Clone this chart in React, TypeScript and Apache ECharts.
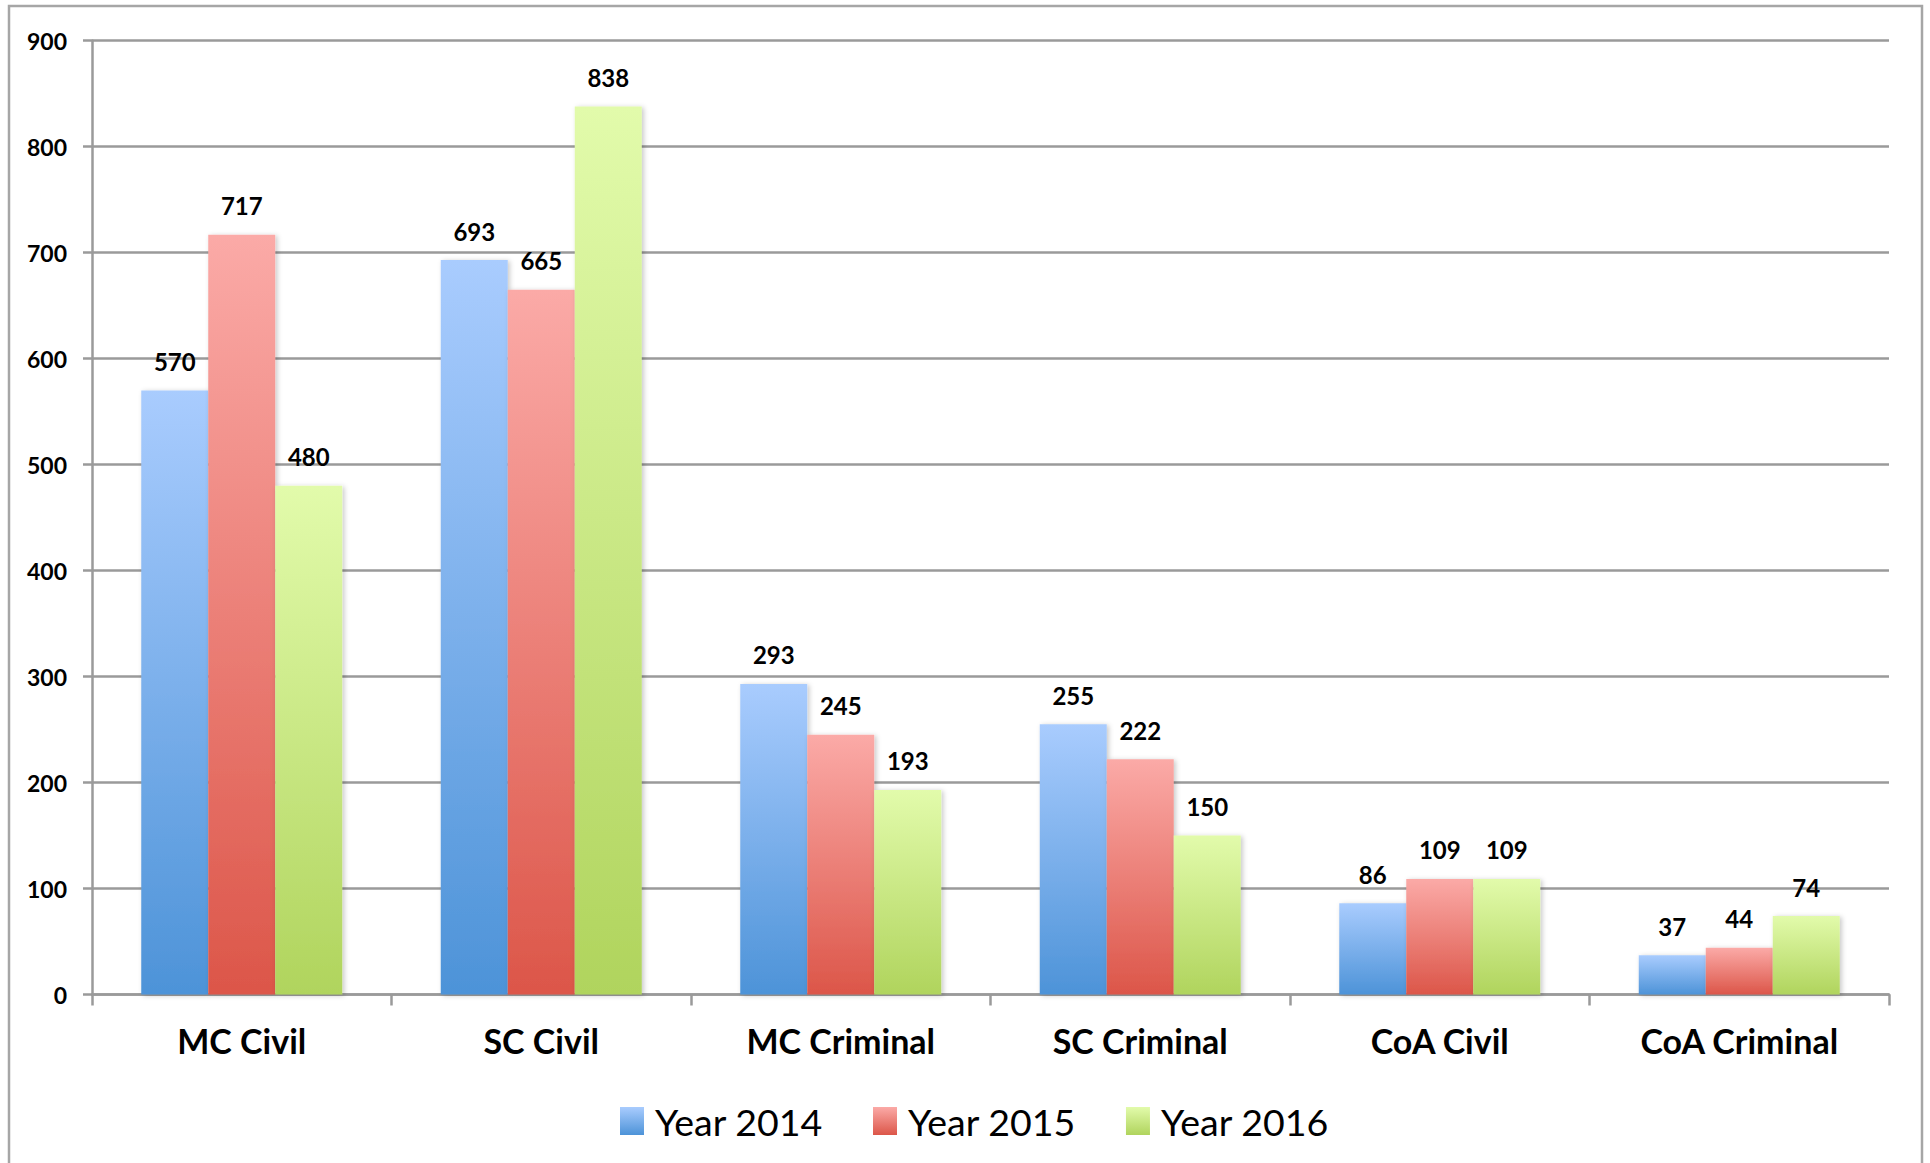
import React, { useEffect, useRef } from "react";
import * as echarts from "echarts";

const categories = ["MC Civil", "SC Civil", "MC Criminal", "SC Criminal", "CoA Civil", "CoA Criminal"];
const year2014 = [570, 693, 293, 255, 86, 37];
const year2015 = [717, 665, 245, 222, 109, 44];
const year2016 = [480, 838, 193, 150, 109, 74];
const seriesNames = ["Year 2014", "Year 2015", "Year 2016"];
const yTicks = { min: 0, max: 900, interval: 100 };

const grad = (top: string, bottom: string) =>
  new echarts.graphic.LinearGradient(0, 0, 0, 1, [
    { offset: 0, color: top },
    { offset: 1, color: bottom },
  ]);

export default function App() {
  const ref = useRef<HTMLDivElement>(null);
  useEffect(() => {
    if (!ref.current) return;
    const chart = echarts.init(ref.current, null, { renderer: "svg" });
    const gradients = [
      grad("#A9CCFE", "#4D93D8"),
      grad("#FBAAA7", "#DC5649"),
      grad("#E2FBAB", "#B0D45D"),
    ];
    const datas = [year2014, year2015, year2016];
    const labelFont = "Lato, 'Open Sans', sans-serif";
    chart.setOption({
      animation: false,
      backgroundColor: "#fff",
      graphic: [
        {
          type: "rect",
          shape: { x: 9, y: 6, width: 1913, height: 1175 },
          style: { fill: "none", stroke: "#a6a6a6", lineWidth: 2.5 },
          silent: true,
        },
      ],
      grid: { left: 92, right: 41, top: 40.7, bottom: 168.5, containLabel: false },
      legend: {
        left: 615,
        top: 1097,
        itemWidth: 24,
        itemHeight: 28,
        itemGap: 50,
        icon: "rect",
        data: seriesNames,
        textStyle: {
          fontFamily: "Lato, sans-serif",
          fontSize: 37.5,
          color: "#000",
          padding: [0, 0, 0, 6],
        },
      },
      xAxis: {
        type: "category",
        data: categories,
        boundaryGap: true,
        axisLine: { show: true, lineStyle: { color: "#9a9a9a", width: 2.5 } },
        axisTick: { show: true, length: 11, alignWithLabel: false, lineStyle: { color: "#9a9a9a", width: 2.5 } },
        axisLabel: {
          margin: 29,
          color: "#000",
          fontFamily: labelFont,
          fontWeight: "bold",
          fontSize: 34,
        },
      },
      yAxis: {
        type: "value",
        min: yTicks.min,
        max: yTicks.max,
        interval: yTicks.interval,
        axisLine: { show: true, lineStyle: { color: "#9a9a9a", width: 2.5 } },
        axisTick: { show: true, length: 9, lineStyle: { color: "#9a9a9a", width: 2.5 } },
        splitLine: { show: true, lineStyle: { color: "#9a9a9a", width: 2.5 } },
        axisLabel: {
          margin: 25,
          color: "#000",
          fontFamily: labelFont,
          fontWeight: "bold",
          fontSize: 23,
        },
      },
      series: seriesNames.map((name, i) => ({
        name,
        type: "bar",
        data: datas[i],
        barWidth: 67,
        barGap: "0%",
        itemStyle: {
          color: gradients[i],
          shadowBlur: 5,
          shadowOffsetX: 2,
          shadowOffsetY: 1,
          shadowColor: "rgba(0,0,0,0.22)",
        },
        label: {
          show: true,
          position: "top",
          distance: 17,
          color: "#000",
          fontFamily: labelFont,
          fontWeight: "bold",
          fontSize: 24,
        },
      })),
    });
    return () => chart.dispose();
  }, []);
  return (
    <div
      ref={ref}
      style={{ position: "fixed", left: 0, top: 0, width: 1930, height: 1163 }}
    />
  );
}
